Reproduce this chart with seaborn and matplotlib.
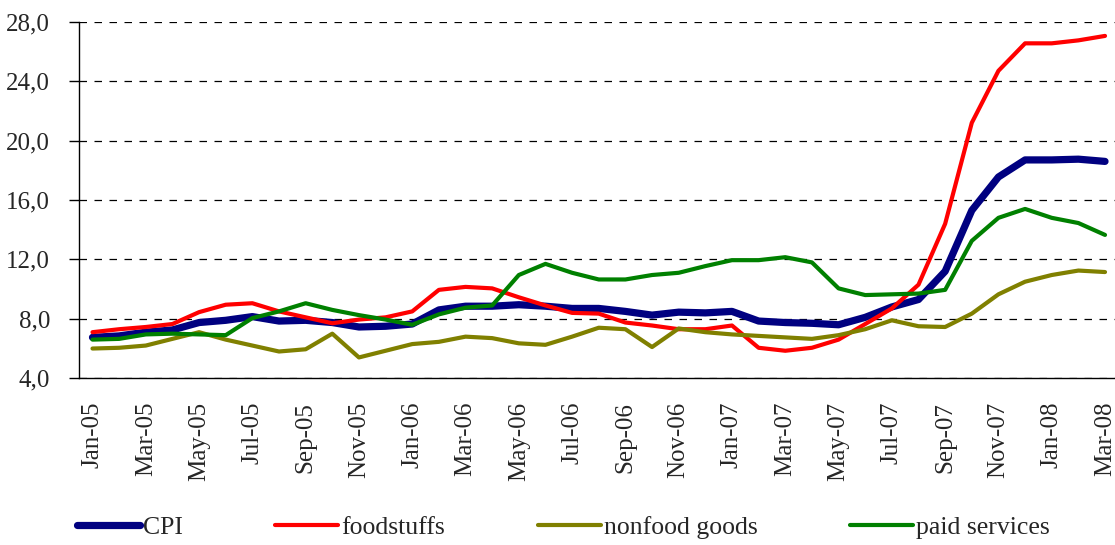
import numpy as np
import pandas as pd
import seaborn as sns
import matplotlib
matplotlib.use('Agg')
import matplotlib.pyplot as plt
from matplotlib.ticker import FixedLocator, FuncFormatter

month_names = ['Jan', 'Feb', 'Mar', 'Apr', 'May', 'Jun', 'Jul', 'Aug', 'Sep', 'Oct', 'Nov', 'Dec']
months = [f'{m}-{y:02d}' for y in (5, 6, 7) for m in month_names] + ['Jan-08', 'Feb-08', 'Mar-08']

cpi = [6.75, 6.85, 7.1, 7.25, 7.75, 7.9, 8.15, 7.85, 7.9, 7.75, 7.45, 7.5, 7.65,
       8.6, 8.85, 8.85, 8.95, 8.85, 8.7, 8.7, 8.5, 8.25, 8.45, 8.4, 8.5,
       7.85, 7.75, 7.7, 7.6, 8.1, 8.8, 9.3, 11.2, 15.3, 17.55, 18.7, 18.7, 18.75, 18.6]
foodstuffs = [7.1, 7.3, 7.45, 7.65, 8.45, 8.95, 9.05, 8.5, 8.1, 7.7, 7.95, 8.1, 8.5,
              9.95, 10.15, 10.05, 9.45, 8.9, 8.4, 8.35, 7.75, 7.55, 7.3, 7.3, 7.55,
              6.05, 5.85, 6.05, 6.6, 7.65, 8.7, 10.3, 14.4, 21.2, 24.7, 26.55, 26.55, 26.75, 27.05]
nonfood = [6.0, 6.05, 6.2, 6.65, 7.1, 6.6, 6.2, 5.8, 5.95, 7.0, 5.4, 5.85, 6.3,
           6.45, 6.8, 6.7, 6.35, 6.25, 6.8, 7.4, 7.3, 6.1, 7.35, 7.1, 6.95,
           6.85, 6.75, 6.65, 6.9, 7.3, 7.9, 7.5, 7.45, 8.35, 9.65, 10.5, 10.95, 11.25, 11.15]
paid_services = [6.6, 6.65, 6.95, 7.0, 6.95, 6.9, 8.05, 8.5, 9.05, 8.6, 8.25, 7.95, 7.6,
                 8.3, 8.75, 8.9, 10.95, 11.7, 11.1, 10.65, 10.65, 10.95, 11.1, 11.55, 11.95,
                 11.95, 12.15, 11.8, 10.05, 9.6, 9.65, 9.7, 9.95, 13.25, 14.8, 15.4, 14.8, 14.45, 13.65]

series_names = ['CPI', 'foodstuffs', 'nonfood goods', 'paid services']
series_values = [cpi, foodstuffs, nonfood, paid_services]
colors = ['#000080', '#ff0000', '#808000', '#008000']
widths = [5.2, 3.0, 3.0, 3.0]

df = pd.DataFrame({'idx': np.arange(len(months))})
for name, vals in zip(series_names, series_values):
    df[name] = vals

sns.set_style('white')
plt.rcParams['font.family'] = ['Liberation Serif', 'DejaVu Serif']

fig = plt.figure(figsize=(11.15, 5.45), dpi=100)
ax = fig.add_axes([0.071, 0.306, 0.932, 0.654])

for name, c, lw in zip(series_names, colors, widths):
    sns.lineplot(data=df, x='idx', y=name, color=c, linewidth=lw, ax=ax,
                 label=name, solid_capstyle='round', solid_joinstyle='round')

ax.set_xlim(-0.5, len(months) - 0.5)
ax.set_ylim(4, 28)
ax.set_yticks(np.arange(4, 29, 4))
ax.yaxis.set_major_formatter(FuncFormatter(lambda v, p: f'{v:.1f}'.replace('.', ',')))
ax.yaxis.grid(True, color='black', linestyle=(0, (6, 6)), linewidth=0.9)
ax.xaxis.grid(False)

label_pos = np.arange(0, len(months), 2)
ax.set_xticks(label_pos)
ax.set_xticklabels([months[i] for i in label_pos], rotation=90)
ax.xaxis.set_minor_locator(FixedLocator(np.arange(-0.5, len(months), 2)))
ax.tick_params(axis='x', which='major', length=0, pad=17, labelsize=18)
ax.tick_params(axis='x', which='minor', length=7, width=1, direction='out', color='black')
ax.tick_params(axis='y', which='major', length=7, width=1, direction='out', pad=14,
               labelsize=18, color='black', left=True)
ax.set_xlabel('')
ax.set_ylabel('')

for s in ['top', 'right']:
    ax.spines[s].set_visible(False)
for s in ['left', 'bottom']:
    ax.spines[s].set_color('black')
    ax.spines[s].set_linewidth(1)

handles, labels = ax.get_legend_handles_labels()
ax.get_legend().remove()
fig.legend(handles, labels, loc='center left', bbox_to_anchor=(0.069, 0.033), ncol=4,
           frameon=False, fontsize=18.5, handlelength=2.45, handletextpad=0.12,
           columnspacing=3.6, borderaxespad=0, borderpad=0)

fig.savefig('out.png', dpi=100)
